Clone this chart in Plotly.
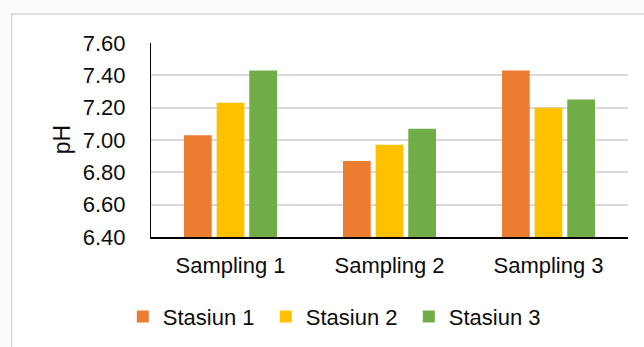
import plotly.graph_objects as go

# pH readings per sampling campaign and station
samplings = ["Sampling 1", "Sampling 2", "Sampling 3"]
stations = ["Stasiun 1", "Stasiun 2", "Stasiun 3"]
stasiun_1 = [7.03, 6.87, 7.43]
stasiun_2 = [7.23, 6.97, 7.20]
stasiun_3 = [7.43, 7.07, 7.25]
y_ticks = [6.40, 6.60, 6.80, 7.00, 7.20, 7.40, 7.60]

colors = ["#ED7D31", "#FFC000", "#70AD47"]
series = [stasiun_1, stasiun_2, stasiun_3]

FONT = "Liberation Sans, Arial, sans-serif"
TEXT = "#0d0d0d"

fig = go.Figure()
for name, vals, col in zip(stations, series, colors):
    fig.add_trace(go.Bar(
        x=samplings, y=vals, name=name,
        marker=dict(color=col, line=dict(width=0)),
    ))

# chart frame (white area with a light grey outline)
fig.add_shape(
    type="rect", xref="paper", yref="paper",
    x0=-0.292, x1=1.10, y0=-0.70, y1=1.149,
    line=dict(color="#d9d9d9", width=1.5),
    fillcolor="white", layer="below",
)

# y axis title
fig.add_annotation(
    text="pH", xref="paper", yref="paper", x=-0.186, y=0.5,
    textangle=-90, showarrow=False,
    font=dict(family=FONT, size=23, color=TEXT),
    xanchor="center", yanchor="middle",
)

fig.update_layout(
    width=644, height=347,
    margin=dict(l=151, r=16, t=43, b=110),
    paper_bgcolor="#fbfbfb",
    plot_bgcolor="white",
    barmode="group",
    bargap=0.384,
    bargroupgap=0.15,
    font=dict(family=FONT, size=22, color=TEXT),
    showlegend=True,
    legend=dict(
        orientation="h", x=0.3906, y=0.0873, yref="container",
        xanchor="center", yanchor="middle",
        entrywidth=98, entrywidthmode="pixels",
        font=dict(family=FONT, size=22, color=TEXT),
        bgcolor="rgba(0,0,0,0)",
    ),
    xaxis=dict(
        showline=True, linecolor="#000000", linewidth=2,
        showgrid=False, ticks="",
        ticklabelstandoff=8,
        tickfont=dict(family=FONT, size=22, color=TEXT),
    ),
    yaxis=dict(
        range=[6.40, 7.60],
        tickvals=y_ticks, tickformat=".2f",
        showline=True, linecolor="#000000", linewidth=1.2,
        showgrid=True, gridcolor="#d9d9d9", gridwidth=2,
        zeroline=False, ticks="",
        ticklabelstandoff=20,
        tickfont=dict(family=FONT, size=22, color=TEXT),
    ),
)

fig.write_html("out.html")
